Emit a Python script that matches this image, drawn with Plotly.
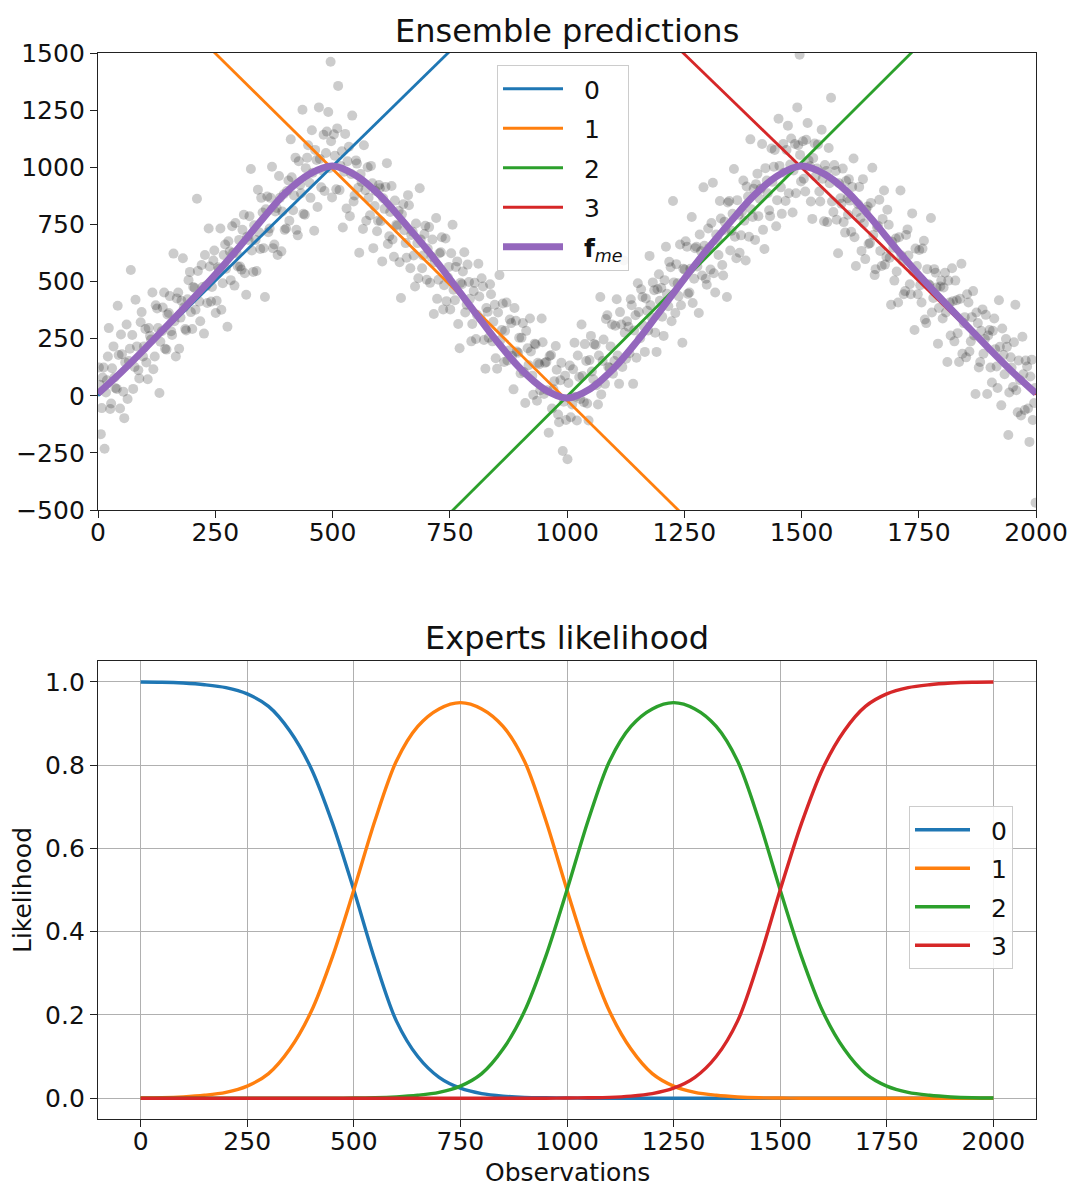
import plotly.graph_objects as go

# ---------------- data ----------------
# observations (noisy triangle wave), first batch
obs_x_a = [2, 6, 10, 14, 19, 23, 28, 33, 37, 42, 47, 51, 56, 61, 66, 70, 75, 80, 86, 91, 96,
           101, 106, 111, 116, 121, 126, 131, 136, 141, 146, 151, 156, 161, 166, 171, 176, 181, 186, 191, 196,
           201, 206, 211, 216, 221, 226, 231, 236, 241, 246, 251, 256, 261, 266, 271, 276, 281, 286, 291, 296,
           301, 306, 311, 316, 321, 326, 331, 336, 341, 346, 351, 356, 361, 366, 371, 376, 381, 386, 391, 396,
           401, 406, 411, 416, 421, 426, 431, 436, 441, 446, 451, 456, 461, 466, 471, 476, 481, 486, 491, 496, 499,
           503, 508, 512, 517, 522, 527, 532, 537, 542, 547, 552, 557, 562, 567, 572, 577, 582, 587, 592, 597,
           601, 606, 611, 616, 621, 626, 631, 636, 641, 646, 651, 656, 661, 666, 671, 676, 681, 686, 691, 696,
           701, 706, 711, 716, 721, 726, 731, 736, 741, 746, 751, 756, 761, 766, 771, 776, 781, 786, 791, 796,
           801, 806, 811, 816, 821, 826, 831, 836, 841, 846, 851, 856, 861, 866, 871, 876, 881, 886, 891, 896,
           901, 906, 911, 916, 921, 926, 931, 936, 941, 946, 951, 956, 961, 966, 971, 976, 981, 986, 991, 996,
           1001, 1006, 1011, 1016, 1021, 1026, 1031, 1036, 1041, 1046, 1051, 1056, 1061, 1066, 1071, 1076, 1081, 1086, 1091, 1096,
           1101, 1106, 1111, 1116, 1121, 1126, 1131, 1136, 1141, 1146, 1151, 1156, 1161, 1166, 1171, 1176, 1181, 1186, 1191, 1196,
           1201, 1206, 1211, 1216, 1221, 1226, 1231, 1236, 1241, 1246, 1251, 1256, 1261, 1266, 1271, 1276, 1281, 1286, 1291, 1296,
           1301, 1306, 1311, 1316, 1321, 1326, 1331, 1336, 1341, 1346, 1351, 1356, 1361, 1366, 1371, 1376, 1381, 1386, 1391, 1396,
           1401, 1406, 1411, 1416, 1421, 1426, 1431, 1436, 1441, 1446, 1451, 1456, 1461, 1466, 1471, 1476, 1481, 1486, 1491, 1496, 1499,
           1503, 1508, 1513, 1518, 1523, 1528, 1533, 1538, 1543, 1548, 1553, 1558, 1563, 1568, 1573, 1578, 1583, 1588, 1593, 1598,
           1601, 1606, 1611, 1616, 1621, 1626, 1631, 1636, 1641, 1646, 1651, 1656, 1661, 1666, 1671, 1676, 1681, 1686, 1691, 1696,
           1701, 1706, 1711, 1716, 1721, 1726, 1731, 1736, 1741, 1746, 1751, 1756, 1761, 1766, 1771, 1776, 1781, 1786, 1791, 1796,
           1801, 1806, 1811, 1816, 1821, 1826, 1831, 1836, 1841, 1846, 1851, 1856, 1861, 1866, 1871, 1876, 1881, 1886, 1891, 1896,
           1901, 1906, 1911, 1916, 1921, 1926, 1931, 1936, 1941, 1946, 1951, 1956, 1961, 1966, 1971, 1976, 1981, 1986, 1991, 1996, 1999]
obs_y_a = [124, -168, 80, -232, 68, 296, -34, 216, 34, 394, -56, 182, -98, 312, 152, 550, 30, 420, 112, 322, 172,
           292, 72, 262, 452, 172, 382, 12, 282, 452, 202, 362, 282, 622, 172, 452, 342, 602, 292, 422, 542,
           292, 472, 862, 412, 572, 272, 482, 732, 412, 592, 362, 562, 732, 492, 662, 302, 632, 742, 482, 622,
           682, 552, 792, 442, 682, 992, 542, 682, 902, 642, 802, 432, 872, 732, 1002, 662, 822, 962, 632, 882,
           732, 942, 1122, 812, 1042, 702, 922, 1252, 792, 1042, 932, 1162, 722, 1032, 1262, 912, 1142, 1062, 1242, 1462, 868,
           1144, 904, 1356, 1006, 736, 1146, 1026, 786, 1226, 876, 1016, 626, 936, 1096, 766, 866, 1006, 646, 896, 766,
           908, 588, 818, 1018, 698, 918, 608, 748, 808, 428, 838, 668, 878, 558, 718, 478, 668, 908, 558, 708,
           508, 738, 608, 358, 778, 508, 628, 378, 688, 518, 378, 748, 418, 588, 208, 488, 628, 398, 498, 238,
           458, 248, 578, 338, 478, 118, 368, 488, 238, 398, 118, 528, 288, 148, 408, 198, 318, 28, 328, 188,
           98, 318, -32, 208, 338, 88, 228, -22, 138, 338, 8, 148, -162, 178, 28, 218, -82, 68, -242, 88,
           -278, 132, -38, 232, -108, 82, 312, -28, 152, -108, 262, 72, 222, -38, 432, 152, 52, 352, 122, 312,
           152, 422, 52, 312, 592, 162, 302, 422, 52, 352, 492, 252, 432, 192, 372, 612, 342, 462, 192, 532,
           472, 262, 652, 392, 562, 852, 362, 492, 662, 232, 552, 652, 452, 782, 512, 652, 362, 632, 912, 512,
           732, 552, 932, 452, 682, 852, 572, 762, 432, 852, 722, 992, 602, 792, 702, 942, 592, 872, 1122, 782,
           682, 972, 862, 1102, 642, 942, 812, 1082, 1002, 742, 1212, 912, 1102, 852, 1182, 1012, 802, 1102, 1262, 1492, 938,
           1114, 894, 1194, 1004, 774, 1104, 994, 894, 1164, 764, 984, 1084, 1304, 804, 984, 624, 864, 994, 714, 864,
           948, 718, 1038, 568, 838, 778, 948, 598, 828, 668, 998, 528, 738, 858, 568, 898, 608, 748, 398, 648,
           688, 408, 898, 588, 458, 728, 488, 798, 288, 568, 638, 408, 678, 318, 488, 778, 428, 538, 228, 478,
           338, 538, 148, 408, 558, 238, 418, 148, 578, 318, 168, 408, 238, 458, 8, 318, 148, 378, 248, 8,
           288, 58, 338, 128, 418, -42, 178, 248, -172, 168, 38, 398, -72, 68, 258, -62, 128, -202, 158, -32, -468]

# observations, second batch (denser core near the wave)
obs_x_b = [4, 8, 12, 17, 21, 26, 30, 35, 40, 44, 49, 54, 58, 63, 68, 73, 78, 83, 88, 93, 98,
           103, 108, 113, 118, 123, 128, 133, 138, 143, 148, 153, 158, 163, 168, 173, 178, 183, 188, 193, 198,
           203, 208, 213, 218, 223, 228, 233, 238, 243, 248, 253, 258, 263, 268, 273, 278, 283, 288, 293, 298,
           303, 308, 313, 318, 323, 328, 333, 338, 343, 348, 353, 358, 363, 368, 373, 378, 383, 388, 393, 398,
           403, 408, 413, 418, 423, 428, 433, 438, 443, 448, 453, 458, 463, 468, 473, 478, 483, 488, 493, 497,
           505, 510, 515, 520, 525, 530, 535, 540, 545, 550, 555, 560, 565, 570, 575, 580, 585, 590, 595, 599,
           603, 608, 613, 618, 623, 628, 633, 638, 643, 648, 653, 658, 663, 668, 673, 678, 683, 688, 693, 698,
           703, 708, 713, 718, 723, 728, 733, 738, 743, 748, 753, 758, 763, 768, 773, 778, 783, 788, 793, 798,
           803, 808, 813, 818, 823, 828, 833, 838, 843, 848, 853, 858, 863, 868, 873, 878, 883, 888, 893, 898,
           903, 908, 913, 918, 923, 928, 933, 938, 943, 948, 953, 958, 963, 968, 973, 978, 983, 988, 993, 998,
           1003, 1008, 1013, 1018, 1023, 1028, 1033, 1038, 1043, 1048, 1053, 1058, 1063, 1068, 1073, 1078, 1083, 1088, 1093, 1098,
           1103, 1108, 1113, 1118, 1123, 1128, 1133, 1138, 1143, 1148, 1153, 1158, 1163, 1168, 1173, 1178, 1183, 1188, 1193, 1198,
           1203, 1208, 1213, 1218, 1223, 1228, 1233, 1238, 1243, 1248, 1253, 1258, 1263, 1268, 1273, 1278, 1283, 1288, 1293, 1298,
           1303, 1308, 1313, 1318, 1323, 1328, 1333, 1338, 1343, 1348, 1353, 1358, 1363, 1368, 1373, 1378, 1383, 1388, 1393, 1398,
           1403, 1408, 1413, 1418, 1423, 1428, 1433, 1438, 1443, 1448, 1453, 1458, 1463, 1468, 1473, 1478, 1483, 1488, 1493, 1497,
           1505, 1510, 1515, 1520, 1525, 1530, 1535, 1540, 1545, 1550, 1555, 1560, 1565, 1570, 1575, 1580, 1585, 1590, 1595, 1599,
           1603, 1608, 1613, 1618, 1623, 1628, 1633, 1638, 1643, 1648, 1653, 1658, 1663, 1668, 1673, 1678, 1683, 1688, 1693, 1698,
           1703, 1708, 1713, 1718, 1723, 1728, 1733, 1738, 1743, 1748, 1753, 1758, 1763, 1768, 1773, 1778, 1783, 1788, 1793, 1798,
           1803, 1808, 1813, 1818, 1823, 1828, 1833, 1838, 1843, 1848, 1853, 1858, 1863, 1868, 1873, 1878, 1883, 1888, 1893, 1898,
           1903, 1908, 1913, 1918, 1923, 1928, 1933, 1938, 1943, 1948, 1953, 1958, 1963, 1968, 1973, 1978, 1983, 1988, 1993, 1998]
obs_y_b = [48, -54, 124, 14, 172, -58, 120, 80, 30, 178, 268, 18, 146, -14, 206, 266, 126, 216, 76, 366, 216,
           146, 296, 246, 116, 396, 296, 236, 386, 206, 356, 436, 266, 326, 426, 206, 416, 386, 286, 506, 366,
           476, 376, 546, 326, 476, 616, 406, 566, 476, 636, 416, 556, 376, 616, 556, 676, 506, 626, 756, 566,
           566, 726, 536, 696, 786, 636, 746, 546, 716, 866, 646, 816, 716, 866, 646, 806, 616, 866, 806, 726,
           896, 766, 956, 876, 726, 1026, 886, 796, 996, 1096, 866, 976, 1076, 826, 1036, 986, 896, 1156, 996, 1114,
           1050, 1170, 900, 1070, 980, 820, 1090, 970, 850, 1030, 910, 970, 730, 900, 1000, 790, 930, 830, 720, 922,
           764, 864, 914, 664, 804, 684, 854, 744, 584, 794, 724, 604, 834, 704, 614, 754, 514, 684, 614, 744,
           644, 494, 684, 584, 424, 624, 694, 484, 414, 564, 624, 464, 564, 314, 494, 544, 364, 574, 424, 314,
           494, 354, 434, 514, 244, 384, 254, 444, 324, 164, 364, 244, 404, 284, 154, 334, 174, 384, 194, 254,
           254, 104, 284, 134, 194, 4, 224, 144, 24, 234, 144, 24, 174, -56, 64, 114, -116, 144, -26, -106,
           56, -94, 116, -4, 176, -14, 86, 226, -34, 156, 106, 226, 46, 176, 6, 246, 336, 126, 216, 96,
           306, 176, 366, 126, 276, 326, 186, 396, 286, 166, 366, 466, 306, 426, 286, 396, 496, 276, 466, 416,
           346, 506, 446, 586, 326, 496, 576, 436, 396, 556, 676, 446, 556, 406, 646, 566, 706, 526, 656, 486,
           646, 756, 536, 706, 616, 776, 526, 726, 846, 636, 796, 696, 856, 626, 806, 766, 916, 696, 816, 906,
           926, 786, 906, 726, 996, 886, 786, 936, 1076, 856, 1006, 796, 976, 1076, 886, 1126, 986, 886, 1096, 1054,
           950, 1120, 1030, 850, 1040, 960, 1100, 850, 950, 1010, 760, 930, 850, 1010, 770, 930, 840, 760, 940, 792,
           854, 914, 694, 804, 914, 634, 754, 814, 664, 844, 704, 554, 744, 634, 774, 574, 814, 604, 674, 504,
           544, 694, 614, 444, 704, 614, 444, 544, 644, 444, 484, 644, 334, 554, 484, 364, 554, 474, 384, 504,
           474, 364, 504, 264, 414, 504, 274, 424, 184, 344, 444, 194, 344, 264, 364, 124, 284, 184, 354, 264,
           124, 284, 204, 34, 214, 294, 94, 214, 14, 124, 234, 24, 154, -86, 94, 154, -56, 84, -106, 34]

# expert linear predictions (values at x = 0 and x = 2000)
expert_x = [0, 2000]
expert0_y = [0, 4020]
expert1_y = [2005, -2045]
expert2_y = [-2050, 2045]
expert3_y = [3980, 5]

# mixture-of-experts prediction and likelihood grid
grid_x = [0, 50, 100, 150, 200, 250, 300, 350, 400, 450, 500, 550, 600, 650, 700, 750, 800, 850, 900, 950,
          1000, 1050, 1100, 1150, 1200, 1250, 1300, 1350, 1400, 1450, 1500, 1550, 1600, 1650, 1700, 1750,
          1800, 1850, 1900, 1950, 2000]
fme_y = [10, 104, 206, 312, 419, 530, 648, 772, 888, 969, 1005, 964, 879, 765, 643, 512, 375, 240, 120, 31,
         -10, 31, 120, 240, 375, 512, 643, 765, 879, 964, 1005, 969, 888, 772, 648, 530, 419, 312, 206, 104, 10]

lik0 = [0.9995, 0.999, 0.997, 0.993, 0.986, 0.971, 0.941, 0.882, 0.792, 0.660, 0.500, 0.330, 0.185, 0.100,
        0.050, 0.024, 0.011, 0.005, 0.002, 0.001, 0.0005,
        0, 0, 0, 0, 0, 0, 0, 0, 0, 0, 0, 0, 0, 0, 0, 0, 0, 0, 0, 0]
lik1 = [0.0005, 0.001, 0.003, 0.007, 0.014, 0.029, 0.059, 0.118, 0.208, 0.340, 0.500, 0.668, 0.810, 0.893,
        0.935, 0.950, 0.935, 0.893, 0.810, 0.668, 0.500, 0.340, 0.208, 0.118, 0.059, 0.029, 0.014, 0.007,
        0.003, 0.001, 0.0005, 0, 0, 0, 0, 0, 0, 0, 0, 0, 0]
lik2 = [0, 0, 0, 0, 0, 0, 0, 0, 0, 0, 0.0005, 0.001, 0.003, 0.007, 0.014, 0.029, 0.059, 0.118, 0.208, 0.340,
        0.500, 0.668, 0.810, 0.893, 0.935, 0.950, 0.935, 0.893, 0.810, 0.668, 0.500, 0.340, 0.208, 0.118,
        0.059, 0.029, 0.014, 0.007, 0.003, 0.001, 0.0005]
lik3 = [0, 0, 0, 0, 0, 0, 0, 0, 0, 0, 0, 0, 0, 0, 0, 0, 0, 0, 0, 0,
        0.0005, 0.001, 0.002, 0.005, 0.011, 0.024, 0.050, 0.100, 0.185, 0.330, 0.500, 0.660, 0.792, 0.882,
        0.941, 0.971, 0.986, 0.993, 0.997, 0.999, 0.9995]

expert_names = ["0", "1", "2", "3"]
colors = ["#1f77b4", "#ff7f0e", "#2ca02c", "#d62728"]
purple = "#9467bd"

FONT = "DejaVu Sans"
PAD = "\u00a0\u00a0"  # gap between legend line sample and label

# ---------------- figure ----------------
fig = go.Figure()

fig.add_trace(go.Scatter(x=obs_x_a + obs_x_b, y=obs_y_a + obs_y_b, mode="markers", xaxis="x", yaxis="y",
                         marker=dict(size=10, color="rgba(0,0,0,0.2)", line=dict(width=0)),
                         showlegend=False, hoverinfo="skip"))

for name, ys, c in zip(expert_names, [expert0_y, expert1_y, expert2_y, expert3_y], colors):
    fig.add_trace(go.Scatter(x=expert_x, y=ys, mode="lines", name=PAD + name, xaxis="x", yaxis="y",
                             line=dict(color=c, width=2.8), legend="legend", legendgroup="t" + name))

fig.add_trace(go.Scatter(x=grid_x, y=fme_y, mode="lines", name=PAD + "<b>f</b><sub><i>me</i></sub>",
                         xaxis="x", yaxis="y", line=dict(color=purple, width=7, shape="spline", smoothing=1.0),
                         legend="legend", legendgroup="tfme"))

for name, ys, c in zip(expert_names, [lik0, lik1, lik2, lik3], colors):
    fig.add_trace(go.Scatter(x=grid_x, y=ys, mode="lines", name=PAD + name, xaxis="x2", yaxis="y2",
                             line=dict(color=c, width=3.4, shape="spline", smoothing=0.9),
                             legend="legend2", legendgroup="b" + name))

axis_common = dict(showline=True, linecolor="#222", linewidth=1.3, mirror=True,
                   ticks="outside", ticklen=7, tickwidth=1.3, tickcolor="#222",
                   tickfont=dict(family=FONT, size=25, color="#111"), zeroline=False, automargin=False)

W, H = 1073, 1187
L, R, T, B = 98, 37, 53, 68
pw = W - L - R
ph = H - T - B

def py(p):
    return (H - B - p) / ph

def px(p):
    return (p - L) / pw

fig.update_layout(
    width=W, height=H, margin=dict(l=L, r=R, t=T, b=B, autoexpand=False),
    paper_bgcolor="white", plot_bgcolor="white",
    font=dict(family=FONT, size=25, color="#111"),
    xaxis=dict(domain=[0, 1], anchor="y", range=[0, 2000], tickvals=list(range(0, 2001, 250)),
               showgrid=False, ticklabelstandoff=-7, **axis_common),
    yaxis=dict(domain=[py(510), 1], anchor="x", range=[-500, 1500], tickvals=list(range(-500, 1501, 250)),
               showgrid=False, **axis_common),
    xaxis2=dict(domain=[0, 1], anchor="y2", range=[-100, 2100], tickvals=list(range(0, 2001, 250)),
                showgrid=True, gridcolor="#b0b0b0", gridwidth=1, ticklabelstandoff=-7, **axis_common),
    yaxis2=dict(domain=[0, py(661)], anchor="x2", range=[-0.05, 1.05], tickvals=[0, 0.2, 0.4, 0.6, 0.8, 1.0],
                tickformat=".1f", showgrid=True, gridcolor="#b0b0b0", gridwidth=1, **axis_common),
    legend=dict(x=px(497), y=py(65), xanchor="left", yanchor="top",
                bgcolor="rgba(255,255,255,0.85)", bordercolor="#cccccc", borderwidth=1,
                font=dict(family=FONT, size=25), tracegroupgap=4, itemwidth=60),
    legend2=dict(x=px(909), y=py(806), xanchor="left", yanchor="top",
                 bgcolor="rgba(255,255,255,0.85)", bordercolor="#cccccc", borderwidth=1,
                 font=dict(family=FONT, size=25), tracegroupgap=3, itemwidth=55),
    annotations=[
        dict(text="Ensemble predictions", x=0.5, y=py(31), xref="paper", yref="paper",
             showarrow=False, xanchor="center", yanchor="middle", font=dict(family=FONT, size=32, color="#111")),
        dict(text="Experts likelihood", x=0.5, y=py(638), xref="paper", yref="paper",
             showarrow=False, xanchor="center", yanchor="middle", font=dict(family=FONT, size=32, color="#111")),
        dict(text="Observations", x=0.5, y=py(1172), xref="paper", yref="paper",
             showarrow=False, xanchor="center", yanchor="middle", font=dict(family=FONT, size=25, color="#111")),
        dict(text="Likelihood", x=px(22), y=py(890), xref="paper", yref="paper", textangle=-90,
             showarrow=False, xanchor="center", yanchor="middle", font=dict(family=FONT, size=25, color="#111")),
    ],
)

fig.write_html("out.html", config={"displayModeBar": False},
               post_script="document.body.style.margin='0';document.body.style.overflow='hidden';")
